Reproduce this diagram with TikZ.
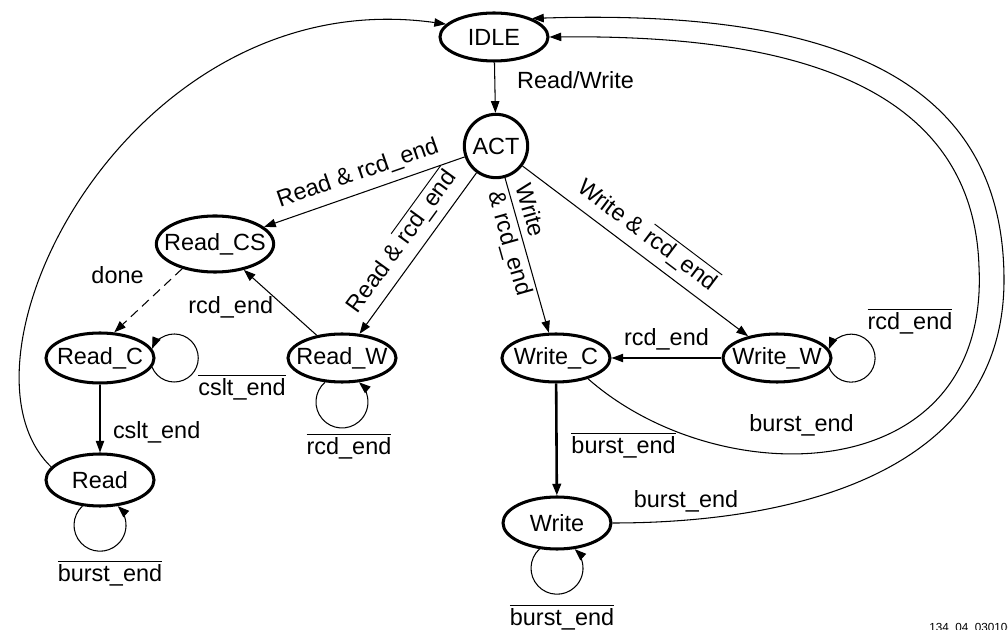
\documentclass[tikz,border=0pt]{standalone}
\usepackage{fontspec}
\setmainfont{Liberation Sans}
\usetikzlibrary{shapes.geometric,arrows.meta}
\newcommand{\notsig}[1]{$\overline{\mbox{#1}}$}
\tikzset{state/.style={draw, ellipse, line width=1.3pt, inner sep=0pt,
    minimum width=1.62cm, minimum height=0.72cm},
  tr/.style={-{Triangle[length=5pt,width=3.6pt]}, line width=0.45pt}}

\begin{document}
\begin{tikzpicture}[x=0.015cm, y=-0.015cm]
   \useasboundingbox (0,0) rectangle (1008,630);
   % states
   \node[state] (idle) at (494,37) {\makebox[0pt]{IDLE}};
   \node[state, circle, minimum size=0.95cm] (act) at (496,146) {\makebox[0pt]{ACT}};
   \node[state, minimum width=1.76cm, minimum height=0.84cm] (readcs) at (215,244) {\makebox[0pt]{Read\_CS}};
   \node[state, minimum height=0.75cm] (readc) at (100,358) {\makebox[0pt]{Read\_C}};
   \node[state] (readw) at (342,358) {\makebox[0pt]{Read\_W}};
   \node[state, minimum height=0.78cm] (read) at (100,480) {\makebox[0pt]{Read}};
   \node[state] (writec) at (556,358) {\makebox[0pt]{Write\_C}};
   \node[state] (writew) at (777,358) {\makebox[0pt]{Write\_W}};
   \node[state, minimum height=0.78cm] (write) at (557,523) {\makebox[0pt]{Write}};
   % transitions
   \draw[tr] (idle) -- node[right=6pt, pos=0.35] {Read/Write} (act);
   \draw[tr] (act) -- node[sloped, above, pos=0.5] {Read \& rcd\_end} (readcs);
   \draw[tr] (act) -- node[sloped, above, pos=0.5] {Read \& \notsig{rcd\_end}} (readw);
   \draw[tr] (act) -- node[sloped, pos=0.4, align=left] {Write\\\& rcd\_end} (writec);
   \draw[tr] (act) -- node[sloped, above, pos=0.5] {Write \& \notsig{rcd\_end}} (writew);
   \draw[tr] (writew) -- node[above] {rcd\_end} (writec);
   \draw[tr] (readw) -- node[left=2pt, pos=0.42] {rcd\_end} (readcs);
   \draw[tr, dash pattern=on 4pt off 2.5pt] (readcs.217) -- node[left=10pt, pos=0.1] {done} (readc.61);
   \draw[tr] (readc) -- node[right=2pt, pos=0.7] {cslt\_end} (read);
   \draw[tr, line width=1.1pt] (writec) -- node[right=2.5pt, pos=0.55] {\notsig{burst\_end}} (write);
   % self loops
   \draw[tr] (readc.-10) arc[start angle=202.5, end angle=517.5, radius=0.36cm];
   \draw[tr] (writew.-10) arc[start angle=202, end angle=518, radius=0.36cm];
   \draw[tr] (readw.-125) arc[start angle=130.8, end angle=409.2, radius=0.39cm];
   \draw[tr] (read.-124) arc[start angle=132.7, end angle=407.3, radius=0.39cm];
   \draw[tr] (write.-124) arc[start angle=132.7, end angle=407.3, radius=0.39cm];
   \node (lreadc) at (242,387) {\notsig{cslt\_end}};
   \node (lwritew) at (910,321) {\notsig{rcd\_end}};
   \node (lreadw) at (349,446) {\notsig{rcd\_end}};
   \node (lread) at (110,573) {\notsig{burst\_end}};
   \node (lwrite) at (562,617) {\notsig{burst\_end}};
   % back to IDLE
   \draw[tr] (read.165) .. controls (-60,360) and (130,-20) .. (idle.165);
   \draw[tr] (writec.-33) .. controls (720,495) and (990,490) .. (979,267)
      node[pos=0.43, above=4pt] {burst\_end}
      .. controls (973,70) and (760,35) .. (idle.east);
   \draw[tr] (write.east) .. controls (800,523) and (1004,470) .. (1004,280)
      node[pos=0.13, above] {burst\_end}
      .. controls (1004,60) and (800,10) .. (idle.26);
   \node[anchor=west, font=\fontsize{5}{6}\selectfont] (tag) at (921,629) {134\_04\_030106};
\end{tikzpicture}
\end{document}
